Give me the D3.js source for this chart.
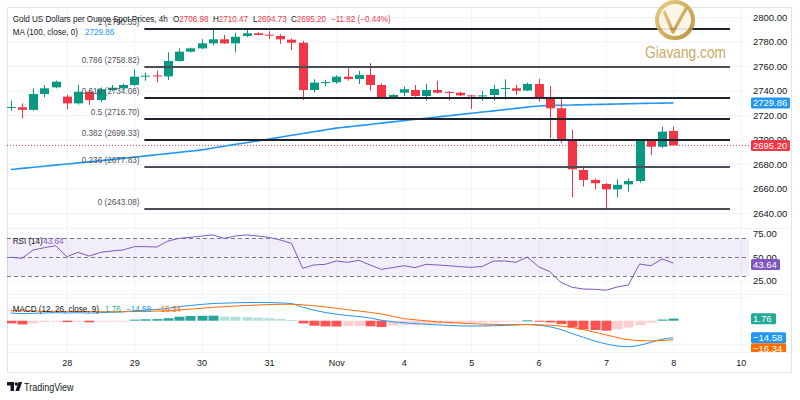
<!DOCTYPE html>
<html><head><meta charset="utf-8">
<script src="https://cdn.jsdelivr.net/npm/d3@7"></script>
<style>html,body{margin:0;padding:0;background:#fff;}svg{display:block;}</style>
</head><body>
<svg id="c" width="800" height="400"></svg>
<script>
// ---------- DATA ----------
const opens  = [2726.2,2726.3,2724.2,2737.1,2742.6,2735.0,2729.5,2739.0,2732.2,2740.4,2741.8,2744.5,2751.5,2752.3,2751.5,2764.1,2771.7,2774.4,2778.5,2781.8,2778.5,2784.5,2786.7,2785.6,2784.5,2781.5,2779.0,2740.4,2746.4,2746.7,2751.3,2749.4,2752.7,2744.5,2733.6,2738.2,2740.4,2735.5,2740.4,2738.8,2738.2,2736.0,2735.5,2736.3,2741.5,2741.8,2740.0,2745.3,2733.6,2725.5,2699.0,2675.1,2667.0,2663.7,2659.3,2663.4,2666.1,2699.0,2694.1,2706.98];
const highs  = [2731.7,2729.5,2741.8,2744.5,2748.0,2736.5,2744.5,2741.0,2742.5,2744.5,2745.5,2757.3,2754.5,2756.2,2771.2,2774.4,2775.0,2781.8,2790.33,2785.3,2787.2,2789.4,2787.5,2788.5,2786.0,2782.5,2780.5,2749.1,2748.5,2752.5,2758.1,2756.0,2762.2,2745.8,2737.0,2743.1,2744.5,2745.3,2748.0,2739.5,2739.0,2736.5,2739.5,2744.5,2749.1,2744.5,2746.4,2749.4,2743.7,2733.6,2707.8,2677.3,2668.0,2664.5,2667.5,2668.5,2699.8,2700.0,2710.5,2710.47];
const lows   = [2723.5,2717.3,2723.5,2734.4,2741.8,2724.6,2728.5,2728.2,2730.5,2739.5,2741.0,2743.5,2748.0,2746.7,2748.6,2763.5,2771.0,2773.8,2776.9,2778.0,2771.2,2783.5,2785.0,2782.0,2778.0,2773.0,2732.2,2738.5,2743.5,2745.5,2748.0,2745.3,2739.8,2733.0,2733.0,2735.5,2735.0,2731.7,2737.5,2731.7,2735.5,2724.9,2731.7,2731.7,2732.8,2736.3,2739.5,2730.9,2701.0,2696.9,2652.8,2661.5,2659.3,2643.08,2652.8,2657.4,2664.8,2687.3,2693.0,2694.73];
const closes = [2726.6,2724.2,2737.1,2741.8,2747.2,2729.5,2739.0,2732.2,2741.0,2742.3,2744.5,2751.3,2752.1,2751.5,2764.1,2771.7,2774.4,2778.5,2781.8,2778.5,2783.9,2786.7,2785.3,2785.0,2781.8,2779.0,2740.4,2746.4,2747.0,2751.3,2749.4,2752.7,2744.5,2733.6,2736.3,2741.0,2735.5,2740.4,2738.2,2738.2,2736.0,2735.5,2736.0,2741.2,2742.0,2739.8,2745.3,2733.6,2725.5,2699.0,2675.7,2667.0,2664.3,2659.3,2663.0,2666.1,2699.0,2694.1,2706.4,2695.20];
const ma100  = [2675.5,2676.4,2677.3,2678.2,2679.1,2680.0,2680.9,2681.8,2682.7,2683.6,2684.6,2685.6,2686.6,2687.5,2688.5,2689.5,2690.5,2691.5,2693.0,2694.5,2696.0,2697.4,2698.9,2700.4,2701.9,2703.4,2704.9,2706.3,2707.8,2709.3,2710.3,2711.3,2712.3,2713.4,2714.4,2715.4,2716.4,2717.4,2718.4,2719.4,2720.4,2721.4,2722.4,2723.4,2724.4,2725.4,2726.4,2727.4,2727.7,2728.0,2728.2,2728.4,2728.6,2728.8,2729.0,2729.2,2729.4,2729.6,2729.7,2729.86];
const rsi    = [49.8,48.6,57.4,59.8,61.9,50.3,54.9,51.0,54.9,56.3,57.4,60.9,60.9,60.5,66.8,69.6,70.7,72.1,73.2,69.6,72.1,73.2,72.1,70.7,67.9,64.4,38.1,41.6,42.3,45.8,44.4,46.5,41.6,37.0,38.8,40.8,38.8,42.3,41.6,40.8,39.8,39.1,40.1,45.8,45.8,44.4,50.0,39.8,34.6,23.3,18.1,16.3,16.0,15.0,18.4,20.5,42.6,40.8,47.9,43.64];
const macdLine   = [6.6,6.0,6.3,6.6,6.9,6.6,6.8,6.5,6.9,7.2,7.5,8.4,9.1,9.6,10.6,12.0,13.0,13.9,14.7,15.0,15.3,15.5,15.6,15.5,15.2,14.6,11.6,9.0,7.0,5.6,4.4,3.6,2.3,0.4,-0.9,-1.8,-2.5,-3.1,-3.6,-4.0,-4.4,-4.6,-4.5,-4.3,-4.0,-3.7,-3.2,-3.9,-5.2,-7.6,-11.0,-14.2,-17.3,-19.8,-21.6,-22.2,-21.0,-18.5,-15.9,-14.58];
const signalLine = [8.6,8.4,8.2,8.1,8.0,7.9,7.8,7.8,7.7,7.7,7.7,7.8,8.0,8.2,8.6,9.2,9.9,10.6,11.4,12.0,12.5,13.0,13.4,13.8,14.0,14.0,13.6,12.8,11.8,10.6,9.4,8.3,7.1,5.8,3.8,1.8,0.8,-0.1,-0.9,-1.5,-2.1,-2.6,-2.9,-3.1,-3.2,-3.3,-3.4,-3.5,-3.8,-4.6,-5.8,-7.6,-9.8,-12.1,-14.4,-16.2,-17.0,-17.3,-16.9,-16.34];
const histogram  = [-2.3,-3.2,-2.3,-1.2,-0.6,-1.2,-0.9,-1.4,-0.6,-0.3,-0.2,0.9,1.2,1.4,2.1,3.4,4.0,4.2,4.3,3.5,3.3,3.0,2.6,2.1,1.4,0.6,-2.3,-4.3,-4.9,-5.0,-4.7,-4.5,-4.8,-5.4,-4.2,-3.6,-3.3,-3.0,-2.8,-2.6,-2.3,-2.0,-1.7,-1.3,-0.9,-0.5,0.3,-0.5,-1.5,-2.9,-5.7,-7.4,-8.0,-8.5,-7.4,-5.8,-3.7,-1.7,1.0,1.76];
const dayLabels = ["28","29","30","31","Nov","4","5","6","7","8","10"];
const dayIndex  = [5,11,17,23,29,35,41,47,53,59,65];
const priceTicks = [2640,2660,2680,2700,2720,2740,2760,2780,2800];
const rsiTicks = [75,50,25];
const rsiBands = [70,50,30];
const fibRatios = ["0","0.236","0.382","0.5","0.618","0.786","1"];
const fibPrices = [2643.08,2677.83,2699.33,2716.70,2734.08,2758.82,2790.33];
const fibFrom = 11.9, fibTo = 64.05;
const legend = {title:"Gold US Dollars per Ounce Spot Prices, 4h", o:"2706.98", h:"2710.47", l:"2694.73", c:"2695.20", chg:"\u221211.82 (\u22120.44%)"};

// ---------- LAYOUT ----------
const FONT = "'Liberation Sans', Arial, sans-serif";
const GREEN = "#089981", RED = "#f23645", BLUE = "#2196f3", ORANGE = "#ff6d00", PURPLE = "#7e57c2";
const DARK = "#131722", GRID = "#f0f3fa", BORDER = "#e0e3eb";
const plotL = 7, plotR = 749, frameR = 792, topY = 7;
const mainB = 228, rsiB = 294, macdB = 352, axisB = 373;

const svg = d3.select('#c');
const x  = d3.scaleLinear().domain([0,65]).range([10.7,740.65]);
const yP = d3.scaleLinear().domain([2640,2800]).range([213,17]);
const yR = d3.scaleLinear().domain([30,70]).range([276,238]);
const yM = d3.scaleLinear().domain([0,-20]).range([320.7,344.1]);
const px = i => Math.round(x(i));
const idx = d3.range(opens.length);

const defs = svg.append('defs');
[['clipMain',topY,mainB],['clipRsi',mainB,rsiB],['clipMacd',rsiB,macdB]].forEach(([id,a,b])=>{
  defs.append('clipPath').attr('id',id).append('rect').attr('x',plotL).attr('y',a).attr('width',plotR-plotL).attr('height',b-a);
});
defs.append('clipPath').attr('id','clipMacdAxis').append('rect').attr('x',plotR).attr('y',rsiB).attr('width',frameR-plotR).attr('height',macdB-rsiB);
const gold = defs.append('linearGradient').attr('id','gold').attr('x1',0).attr('y1',0).attr('x2',1).attr('y2',1);
gold.append('stop').attr('offset','0%').attr('stop-color','#e6c777');
gold.append('stop').attr('offset','100%').attr('stop-color','#b58a34');

function txt(g, xx, yy, parts, o={}){
  const size=o.size||9, sx=o.sx||0.9, anchor=o.anchor||'start';
  const t=g.append('text').attr('transform',`translate(${xx},${yy}) scale(${sx},1)`)
    .attr('font-family',FONT).attr('font-size',size).attr('text-anchor',anchor)
    .attr('dominant-baseline','central');
  parts.forEach(p=>t.append('tspan').attr('fill',p[1]).text(p[0]));
  return t;
}
function styleGrid(g){ g.select('.domain').remove(); g.selectAll('line').attr('stroke',GRID); g.selectAll('text').remove(); }

// ---------- GRIDS ----------
svg.append('g').attr('transform',`translate(${plotL},0)`)
  .call(d3.axisRight(yP).tickValues(priceTicks).tickSize(plotR-plotL).tickFormat('')).call(styleGrid);
svg.append('g').attr('transform',`translate(${plotL},0)`)
  .call(d3.axisRight(yR).tickValues([75,25]).tickSize(plotR-plotL).tickFormat('')).call(styleGrid);
svg.append('g').attr('transform',`translate(${plotL},0)`)
  .call(d3.axisRight(yM).tickValues([20,-20]).tickSize(plotR-plotL).tickFormat('')).call(styleGrid);
svg.append('g').attr('transform',`translate(0,${topY})`)
  .call(d3.axisBottom(x).tickValues(dayIndex).tickSize(macdB-topY).tickFormat('')).call(styleGrid);

const fr = svg.append('g').attr('stroke',BORDER).attr('fill','none');
fr.append('rect').attr('x',plotL+0.5).attr('y',topY+0.5).attr('width',frameR-plotL-1).attr('height',axisB-topY-1);
[mainB,rsiB,macdB].forEach(v=>fr.append('line').attr('x1',plotL).attr('x2',frameR).attr('y1',v+0.5).attr('y2',v+0.5).attr('stroke',GRID));

// ---------- MAIN PANE ----------
const main = svg.append('g').attr('clip-path','url(#clipMain)');
main.append('line').attr('x1',plotL).attr('x2',plotR).attr('y1',yP(closes[59])).attr('y2',yP(closes[59]))
  .attr('stroke',RED).attr('stroke-dasharray','1,2').attr('stroke-width',1);
main.append('path').datum(idx).attr('fill','none').attr('stroke',BLUE).attr('stroke-width',1.6)
  .attr('d',d3.line().x(i=>x(i)).y(i=>yP(ma100[i])).curve(d3.curveMonotoneX));
const col = i => closes[i]>=opens[i] ? GREEN : RED;
main.selectAll('line.wick').data(idx).join('line').attr('class','wick')
  .attr('x1',i=>px(i)+0.5).attr('x2',i=>px(i)+0.5)
  .attr('y1',i=>yP(highs[i])).attr('y2',i=>yP(lows[i])).attr('stroke',col).attr('stroke-width',1);
main.selectAll('rect.body').data(idx).join('rect').attr('class','body')
  .attr('x',i=>px(i)-4).attr('width',9)
  .attr('y',i=>yP(Math.max(opens[i],closes[i])))
  .attr('height',i=>Math.max(1,Math.abs(yP(opens[i])-yP(closes[i]))))
  .attr('fill',col);
const fib = svg.append('g');
fibPrices.forEach((p,k)=>{
  const yy = Math.round(yP(p));
  fib.append('line').attr('x1',x(fibFrom)).attr('x2',x(fibTo)).attr('y1',yy).attr('y2',yy)
    .attr('stroke',(k===1||k===5||k===0)?'#4a4d57':'#1e222d').attr('stroke-width',2);
  txt(fib, 139.5, yy-7, [[`${fibRatios[k]} (${p.toFixed(2)})`,'#50535e']], {anchor:'end', sx:0.91});
});

// ---------- RSI PANE ----------
const rp = svg.append('g').attr('clip-path','url(#clipRsi)');
rp.append('rect').attr('x',plotL).attr('width',plotR-plotL).attr('y',yR(70)).attr('height',yR(30)-yR(70))
  .attr('fill','rgba(126,87,194,0.1)');
rsiBands.forEach(v=>rp.append('line').attr('x1',plotL).attr('x2',plotR).attr('y1',Math.round(yR(v))+0.5).attr('y2',Math.round(yR(v))+0.5)
  .attr('stroke','#787b86').attr('stroke-dasharray','4,3').attr('stroke-width',1));
rp.append('path').datum(idx).attr('fill','none').attr('stroke',PURPLE).attr('stroke-width',1)
  .attr('d',d3.line().x(i=>x(i)).y(i=>yR(rsi[i])));

// ---------- MACD PANE ----------
const mp = svg.append('g').attr('clip-path','url(#clipMacd)');
const hcol = i => { const h=histogram[i], pr=i>0?histogram[i-1]:0;
  return h>=0 ? (h>pr?'#26a69a':'#b2dfdb') : (h<pr?'#ff5252':'#ffcdd2'); };
mp.selectAll('rect.h').data(idx).join('rect').attr('class','h')
  .attr('x',i=>px(i)-4.5).attr('width',10)
  .attr('y',i=>Math.min(yM(0),yM(histogram[i])))
  .attr('height',i=>Math.max(1,Math.abs(yM(histogram[i])-yM(0))))
  .attr('fill',hcol);
mp.append('path').datum(idx).attr('fill','none').attr('stroke',BLUE).attr('stroke-width',1)
  .attr('d',d3.line().x(i=>x(i)).y(i=>yM(macdLine[i])).curve(d3.curveMonotoneX));
mp.append('path').datum(idx).attr('fill','none').attr('stroke',ORANGE).attr('stroke-width',1)
  .attr('d',d3.line().x(i=>x(i)).y(i=>yM(signalLine[i])).curve(d3.curveMonotoneX));

// ---------- AXES ----------
const pa = svg.append('g').attr('transform',`translate(${plotR},0)`)
  .call(d3.axisRight(yP).tickValues(priceTicks).tickSize(0).tickPadding(4).tickFormat(d3.format('.2f')));
pa.select('.domain').remove();
pa.selectAll('text').attr('font-family',FONT).attr('font-size',9.5).attr('fill',DARK);
const ra = svg.append('g').attr('transform',`translate(${plotR},0)`)
  .call(d3.axisRight(yR).tickValues(rsiTicks).tickSize(0).tickPadding(4).tickFormat(d3.format('.2f')));
ra.select('.domain').remove();
ra.selectAll('text').attr('font-family',FONT).attr('font-size',9.5).attr('fill',DARK);
const ta = svg.append('g').attr('transform',`translate(0,${macdB})`)
  .call(d3.axisBottom(x).tickValues(dayIndex).tickSize(0).tickPadding(8).tickFormat((d,i)=>dayLabels[i]));
ta.select('.domain').remove();
ta.selectAll('text').attr('font-family',FONT).attr('font-size',9).attr('fill',DARK);

function box(g, yc, w, fill, label){
  g.append('rect').attr('x',751).attr('y',yc-5.5).attr('width',w).attr('height',11).attr('rx',1.5).attr('fill',fill);
  g.append('text').attr('x',753).attr('y',yc).attr('dominant-baseline','central').attr('font-family',FONT)
    .attr('font-size',9.5).attr('fill','#fff').text(label);
}
box(svg, yP(ma100[59]), 39, BLUE, ma100[59].toFixed(2));
box(svg, yP(closes[59]), 39, RED, closes[59].toFixed(2));
box(svg, yR(rsi[59])+1.5, 29, PURPLE, rsi[59].toFixed(2));
const mb = svg.append('g').attr('clip-path','url(#clipMacdAxis)');
box(mb, yM(histogram[59]), 25, '#22ab94', histogram[59].toFixed(2));
const yBlue = yM(macdLine[59]);
box(mb, yBlue, 35, BLUE, '\u2212'+Math.abs(macdLine[59]).toFixed(2));
box(mb, yBlue+11, 35, ORANGE, '\u2212'+Math.abs(signalLine[59]).toFixed(2));

// ---------- LEGENDS ----------
const lg = svg.append('g');
txt(lg, 12.7, 19.3, [[legend.title, DARK]]);
txt(lg, 173, 19.3, [['O',DARK],[legend.o,RED]]);
txt(lg, 213, 19.3, [['H',DARK],[legend.h,RED]]);
txt(lg, 253, 19.3, [['L',DARK],[legend.l,RED]]);
txt(lg, 291, 19.3, [['C',DARK],[legend.c,RED]]);
txt(lg, 331, 19.3, [[legend.chg,RED]]);
txt(lg, 12.7, 32.3, [['MA (100, close, 0)',DARK]]);
txt(lg, 85, 32.3, [[ma100[59].toFixed(2),BLUE]]);
txt(lg, 12.7, 240.7, [['RSI (14)',DARK]]);
txt(lg, 43.3, 240.7, [[rsi[59].toFixed(2),PURPLE]]);
txt(lg, 12.7, 309.3, [['MACD (12, 26, close, 9)',DARK]]);
txt(lg, 105, 309.3, [[histogram[59].toFixed(2),'#22ab94']]);
txt(lg, 126, 309.3, [['\u2212'+Math.abs(macdLine[59]).toFixed(2),BLUE]]);
txt(lg, 156, 309.3, [['\u2212'+Math.abs(signalLine[59]).toFixed(2),ORANGE]]);

// ---------- WATERMARK ----------
const wm = svg.append('g').attr('opacity',0.9);
wm.append('circle').attr('cx',675).attr('cy',20).attr('r',18).attr('fill','#fbf5e6').attr('stroke','url(#gold)').attr('stroke-width',4);
wm.append('path').attr('d','M664,11 L673,32 L688,5').attr('fill','none').attr('stroke','url(#gold)').attr('stroke-width',3.2)
  .attr('stroke-linejoin','round');
wm.append('text').attr('x',645).attr('y',58).attr('font-family',FONT)
  .attr('font-size',17).attr('textLength',81).attr('lengthAdjust','spacingAndGlyphs')
  .attr('fill','#c6a052').text('Giavang.com');

// ---------- TRADINGVIEW ----------
const tv = svg.append('g').attr('fill',DARK);
tv.append('path').attr('d','M7,382 h7 v9 h-3.5 v-5.5 h-3.5 z');
tv.append('circle').attr('cx',16.3).attr('cy',384).attr('r',1.7);
tv.append('path').attr('d','M18.6,382 h3.6 l-3.2,9 h-3.6 z');
txt(tv, 24, 386.5, [['TradingView',DARK]], {size:10.5, sx:0.86});
</script>
</body></html>
